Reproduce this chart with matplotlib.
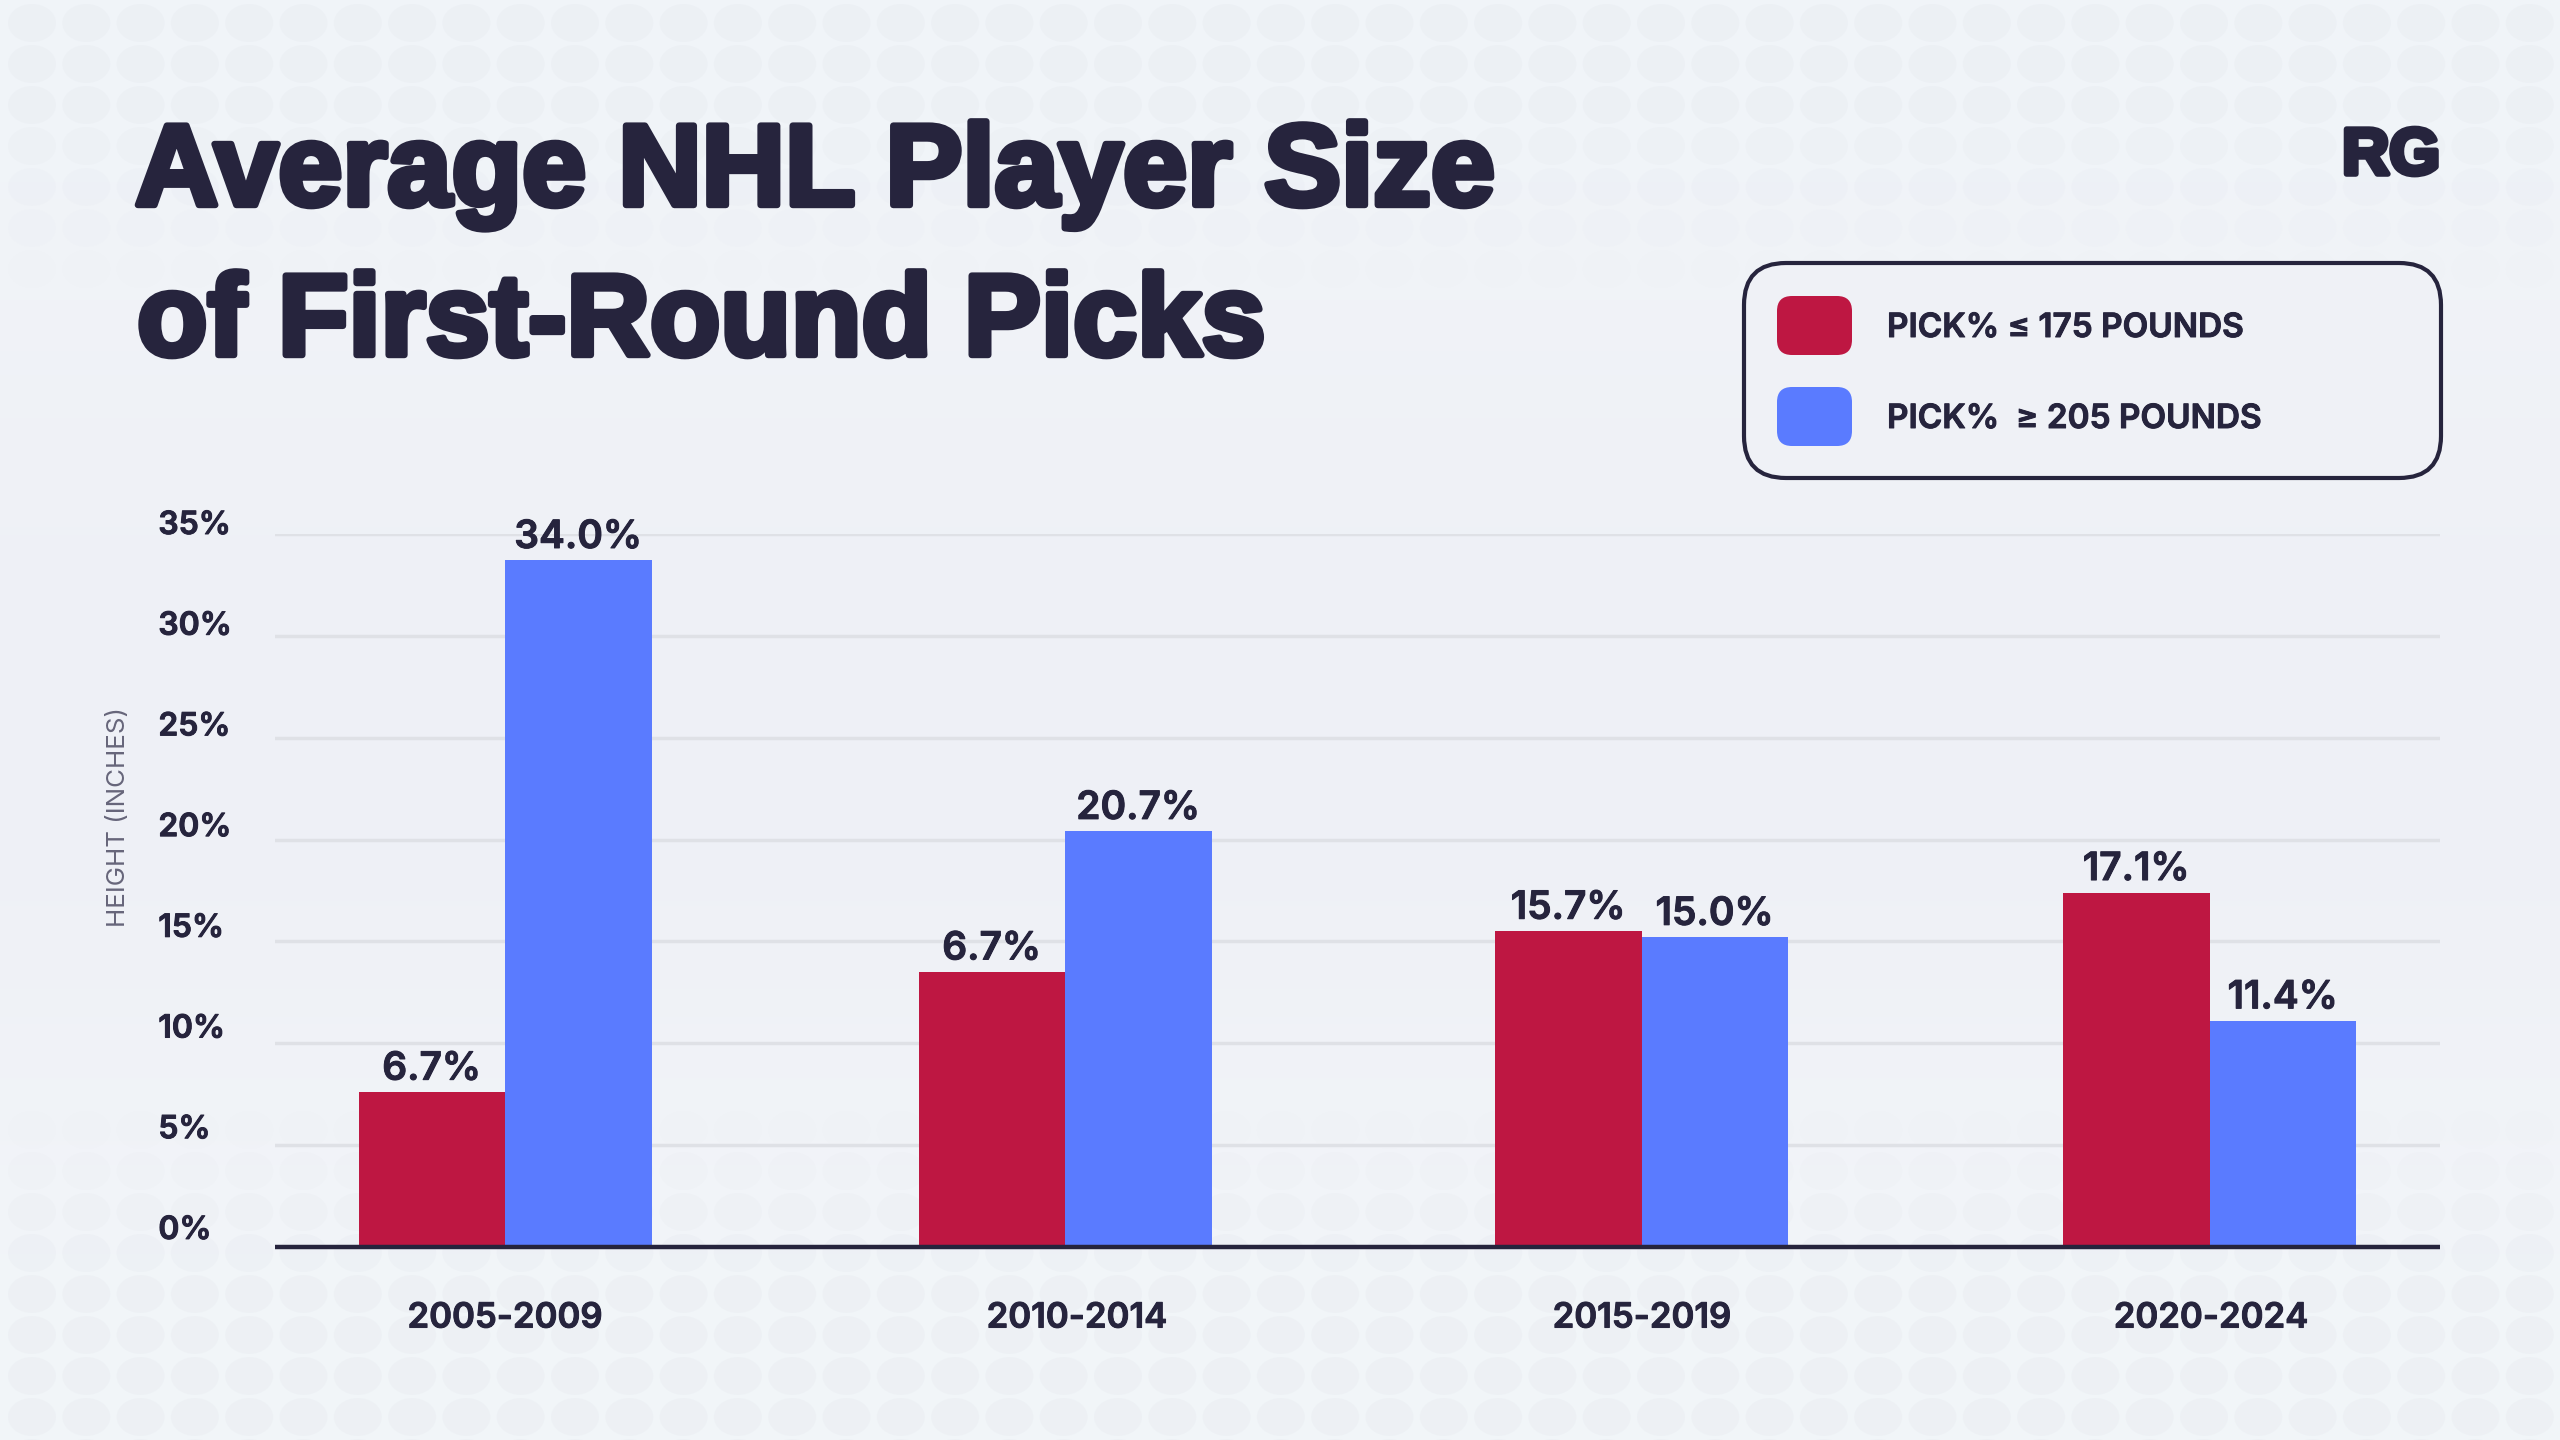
import numpy as np
import matplotlib
matplotlib.use('Agg')
from matplotlib import pyplot as plt
from matplotlib.patches import FancyBboxPatch
from matplotlib.collections import EllipseCollection
import matplotlib.patheffects as pe

# data
periods = ['2005-2009', '2010-2014', '2015-2019', '2020-2024']
light_heights = [7.6, 13.5, 15.5, 17.4]
heavy_heights = [33.7, 20.4, 15.2, 11.1]
light_labels = ['6.7%', '6.7%', '15.7%', '17.1%']
heavy_labels = ['34.0%', '20.7%', '15.0%', '11.4%']
y_ticks = [0, 5, 10, 15, 20, 25, 30, 35]
y_tick_labels = ['0%', '5%', '10%', '15%', '20%', '25%', '30%', '35%']
title_lines = ['Average NHL Player Size', 'of First-Round Picks']
legend_labels = ['PICK% \u2264 175 POUNDS', 'PICK%  \u2265 205 POUNDS']

# layout, in pixels of the 2560x1440 picture
W, H = 2560, 1440
group_x = [505, 1065, 1641.5, 2209.5]
tick_x = [505, 1077, 1642, 2211]
bar_w = 146.5
ax_left, ax_right, ax_top, ax_bottom = 275, 2440, 534, 1247

INK = '#26243D'
RED = '#BE1742'
BLUE = '#5A7BFF'
GRID = '#DFE1E6'
PAPER = '#F1F4F8'
FONT = ['Inter', 'DejaVu Sans']
TITLE_FONT = ['Liberation Sans', 'DejaVu Sans']
semi = [pe.withStroke(linewidth=0.7, foreground=INK)]

fig = plt.figure(figsize=(W / 100, H / 100), dpi=100, facecolor=PAPER)


def fx(x):
    return x / W


def fy(y):
    return 1 - y / H


# background, faint rows of round marks at the top and the bottom
bg = fig.add_axes([0, 0, 1, 1], zorder=0)
bg.set_xlim(0, W)
bg.set_ylim(H, 0)
bg.axis('off')
shade = np.array([[0.945, 0.957, 0.973], [0.937, 0.945, 0.965], [0.937, 0.945, 0.965], [0.949, 0.961, 0.976]])
bg.imshow(shade[:, None, :], extent=[0, W, H, 0], aspect='auto', interpolation='bilinear', zorder=0)
xx, yy = np.meshgrid(np.arange(32, W + 30, 54.3), np.arange(23, H + 20, 41))
xx, yy = xx.ravel(), yy.ravel()
strength = np.clip(np.maximum((yy - 1090) / 170, (290 - yy) / 190), 0, 1)
keep = strength > 0
colors = np.zeros((keep.sum(), 4))
colors[:, :3] = [0.82, 0.83, 0.87]
colors[:, 3] = 0.12 * strength[keep]
bg.add_collection(EllipseCollection(np.full(keep.sum(), 48), np.full(keep.sum(), 38), np.zeros(keep.sum()),
                                    units='xy', offsets=np.column_stack([xx[keep], yy[keep]]),
                                    offset_transform=bg.transData, facecolors=colors, edgecolors='none'))

# chart
ax = fig.add_axes([fx(ax_left), fy(ax_bottom), (ax_right - ax_left) / W, (ax_bottom - ax_top) / H], zorder=2)
ax.patch.set_alpha(0)
ax.set_xlim(ax_left, ax_right)
ax.set_ylim(0, 35)
for s in ['top', 'right', 'left']:
    ax.spines[s].set_visible(False)
ax.spines['bottom'].set_color(INK)
ax.spines['bottom'].set_linewidth(3.2)
ax.spines['bottom'].set_capstyle('butt')
ax.spines['bottom'].set_zorder(5)
ax.set_yticks(y_ticks)
ax.set_yticklabels([])
ax.yaxis.grid(True, color=GRID, linewidth=2.5)
ax.set_axisbelow(True)
ax.tick_params(axis='both', length=0)

gx = np.array(group_x)
b1 = ax.bar(gx - bar_w / 2, light_heights, bar_w, color=RED, zorder=3)
b2 = ax.bar(gx + bar_w / 2, heavy_heights, bar_w, color=BLUE, zorder=3)
for bars, labels in [(b1, light_labels), (b2, heavy_labels)]:
    for bar, lab in zip(bars, labels):
        ax.annotate(lab, (bar.get_x() + bar.get_width() / 2, bar.get_height()), xytext=(0, 9),
                    textcoords='offset points', ha='center', va='baseline', fontsize=28,
                    fontweight='semibold', family=FONT, color=INK, zorder=6, path_effects=semi)

ax.set_xticks(tick_x)
ax.set_xticklabels(periods, fontsize=25, fontweight='semibold', family=FONT, color=INK, path_effects=semi)
ax.tick_params(axis='x', pad=40)

# the percent labels sit a little closer together than the gridlines
ax2 = ax.twinx()
ax2.patch.set_alpha(0)
ax2.set_ylim(-0.4, 35)
ax2.yaxis.tick_left()
for s in ax2.spines.values():
    s.set_visible(False)
ax2.set_yticks(y_ticks)
ax2.set_yticklabels(y_tick_labels, fontsize=23, fontweight='semibold', family=FONT, color=INK,
                    ha='left', va='baseline', path_effects=semi)
ax2.tick_params(axis='y', length=0, pad=84)

fig.text(fx(119), fy(817), 'HEIGHT (INCHES)', rotation=90, ha='center', va='center', fontsize=18.7,
         family=FONT, color='#66657A')

# title and logo
for line, base, left in zip(title_lines, [205, 355], [135, 137]):
    fig.text(fx(left), fy(base), line, fontsize=83.1, fontweight='bold', family=TITLE_FONT, color=INK,
             va='baseline', ha='left',
             path_effects=[pe.withStroke(linewidth=4.6, foreground=INK)])
fig.text(fx(2440), fy(174), 'RG', fontsize=47, fontweight='bold', family=TITLE_FONT,
         color=INK, va='baseline', ha='right', path_effects=[pe.withStroke(linewidth=4, foreground=INK)])

# legend
top = fig.add_axes([0, 0, 1, 1], zorder=4)
top.patch.set_alpha(0)
top.set_xlim(0, W)
top.set_ylim(H, 0)
top.axis('off')
top.add_patch(FancyBboxPatch((1744, 263), 697, 215, boxstyle='round,pad=0,rounding_size=42',
                             facecolor='#EFF1F6', edgecolor=INK, linewidth=3))
for col, lab, sy, base in zip([RED, BLUE], legend_labels, [296, 387], [337, 428]):
    top.add_patch(FancyBboxPatch((1777, sy), 75, 59, boxstyle='round,pad=0,rounding_size=15',
                                 facecolor=col, edgecolor='none'))
    top.text(1887, base, lab, fontsize=24, fontweight='semibold', family=FONT, color=INK,
             va='baseline', ha='left', path_effects=semi)

fig.savefig('out.png', dpi=100, facecolor=fig.get_facecolor())
